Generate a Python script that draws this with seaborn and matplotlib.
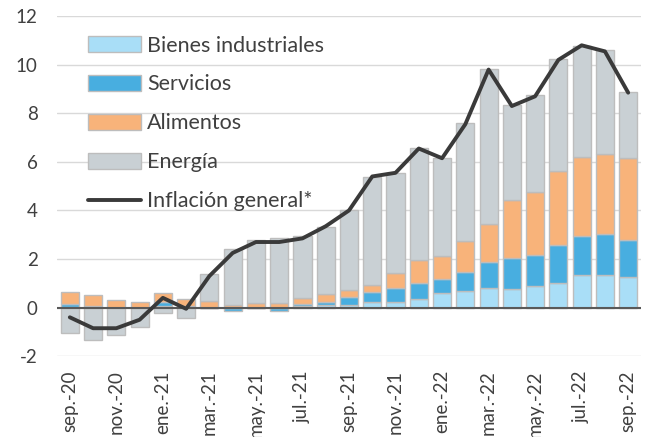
import numpy as np
import pandas as pd
import matplotlib
matplotlib.use("Agg")
import matplotlib.pyplot as plt
import seaborn as sns
from matplotlib.patches import Patch
from matplotlib.lines import Line2D

# datos (contribuciones a la inflación, p.p.)
months = ['sep.-20', 'oct.-20', 'nov.-20', 'dic.-20', 'ene.-21', 'feb.-21', 'mar.-21',
          'abr.-21', 'may.-21', 'jun.-21', 'jul.-21', 'ago.-21', 'sep.-21', 'oct.-21',
          'nov.-21', 'dic.-21', 'ene.-22', 'feb.-22', 'mar.-22', 'abr.-22', 'may.-22',
          'jun.-22', 'jul.-22', 'ago.-22', 'sep.-22']
bienes = [0.03, 0.0, 0.0, 0.0, 0.05, 0.0, 0.0, 0.0, 0.0, 0.0, 0.05, 0.1, 0.12, 0.25,
          0.25, 0.35, 0.6, 0.7, 0.8, 0.78, 0.9, 1.03, 1.33, 1.36, 1.28]
servicios = [0.12, 0.05, 0.0, 0.0, 0.2, 0.05, 0.0, -0.15, 0.0, -0.15, 0.1, 0.13, 0.3,
             0.4, 0.55, 0.65, 0.58, 0.76, 1.08, 1.28, 1.27, 1.55, 1.6, 1.66, 1.5]
alimentos = [0.5, 0.45, 0.3, 0.22, 0.35, 0.32, 0.28, 0.12, 0.17, 0.2, 0.25, 0.35, 0.3,
             0.3, 0.62, 0.98, 0.95, 1.27, 1.58, 2.35, 2.57, 3.06, 3.27, 3.3, 3.38]
energia = [-1.05, -1.35, -1.14, -0.82, -0.23, -0.43, 1.1, 2.3, 2.6, 2.68, 2.54, 2.74,
           3.29, 4.42, 4.13, 4.6, 4.03, 4.87, 6.36, 3.95, 4.0, 4.59, 4.59, 4.27, 2.72]
inflacion = [-0.4, -0.85, -0.85, -0.5, 0.4, -0.05, 1.3, 2.25, 2.7, 2.7, 2.85, 3.35, 4.0,
             5.4, 5.55, 6.55, 6.15, 7.55, 9.8, 8.3, 8.7, 10.2, 10.8, 10.55, 8.85]

series = [('Bienes industriales', bienes, '#A9DEF7'),
          ('Servicios', servicios, '#48AEE0'),
          ('Alimentos', alimentos, '#F8B37A'),
          ('Energía', energia, '#C9D0D4')]

sns.set_style("white")
plt.rcParams['font.family'] = ['Lato', 'DejaVu Sans']
plt.rcParams['axes.unicode_minus'] = False

fig = plt.figure(figsize=(6.51, 4.37), dpi=100)
ax = fig.add_axes([0.0876, 0.185, 0.897, 0.778])

edge = '#BDBDBD'
pos_base = np.zeros(len(months))
neg_base = np.zeros(len(months))
for name, vals, color in series:
    v = np.array(vals)
    bottom = np.where(v >= 0, pos_base, neg_base)
    df = pd.DataFrame({'mes': months, 'valor': v})
    sns.barplot(data=df, x='mes', y='valor', order=months, color=color, bottom=bottom,
                width=0.78, edgecolor=edge, linewidth=1, saturation=1, ax=ax, zorder=2)
    pos_base = pos_base + np.where(v >= 0, v, 0)
    neg_base = neg_base + np.where(v < 0, v, 0)

sns.lineplot(x=np.arange(len(months)), y=inflacion, color='#3A3A3A', linewidth=2.8,
             ax=ax, zorder=4)

ax.axhline(0, color='#595959', linewidth=1.5, zorder=3)
ax.set_ylim(-2, 12)
ax.set_yticks(range(-2, 13, 2))
ax.yaxis.grid(True, color='#D9D9D9', linewidth=1)
ax.set_axisbelow(True)
ax.set_xlim(-0.55, len(months) - 0.45)
ax.set_xticks(range(0, len(months), 2))
ax.set_xticklabels(months[::2], rotation=90)
ax.tick_params(axis='both', length=0, labelsize=13.5, colors='#404040')
ax.tick_params(axis='x', pad=10)
ax.tick_params(axis='y', pad=14)
ax.set_xlabel('')
ax.set_ylabel('')
for s in ax.spines.values():
    s.set_visible(False)

handles = [Patch(facecolor=c, edgecolor=edge, linewidth=1) for _, _, c in series]
handles.append(Line2D([0], [0], color='#3A3A3A', linewidth=2.8))
labels = [n for n, _, _ in series] + ['Inflación general*']
ax.legend(handles, labels, loc='upper left', bbox_to_anchor=(0.02, 1.0), frameon=False,
          fontsize=15.5, labelspacing=0.88, handlelength=2.45, handleheight=0.75,
          handletextpad=0.3, labelcolor='#404040')

plt.savefig('out.png', dpi=100)
